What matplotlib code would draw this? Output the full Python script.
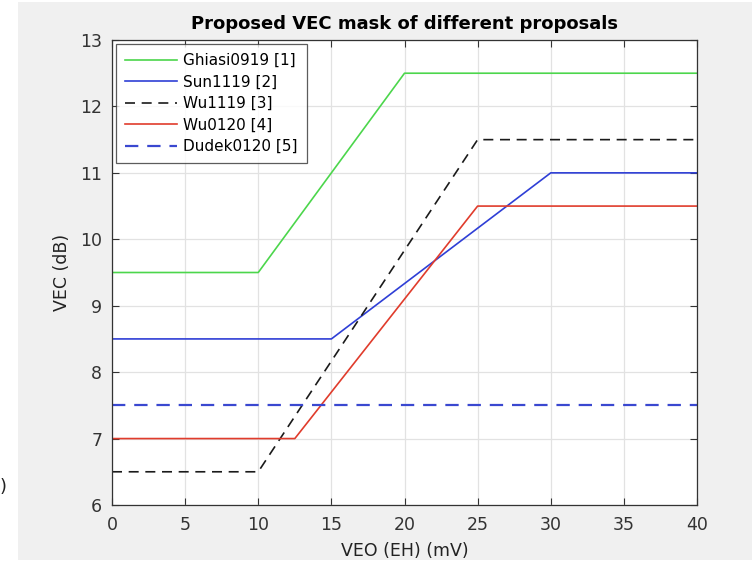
import matplotlib.pyplot as plt
from matplotlib.patches import Rectangle

# VEC mask breakpoints (VEO in mV -> VEC in dB)
ghiasi_x = [0, 10, 20, 40]
ghiasi_y = [9.5, 9.5, 12.5, 12.5]
sun_x = [0, 15, 30, 40]
sun_y = [8.5, 8.5, 11, 11]
wu1119_x = [0, 10, 25, 40]
wu1119_y = [6.5, 6.5, 11.5, 11.5]
wu0120_x = [0, 12.5, 25, 40]
wu0120_y = [7, 7, 10.5, 10.5]
dudek_x = [0, 40]
dudek_y = [7.5, 7.5]

labels = ["Ghiasi0919 [1]", "Sun1119 [2]", "Wu1119 [3]", "Wu0120 [4]", "Dudek0120 [5]"]

plt.rcParams['font.family'] = ['DejaVu Sans']

fig = plt.figure(figsize=(7.54, 5.65), dpi=100)
fig.patch.set_facecolor("white")
# grey window background behind the axes
fig.patches.append(Rectangle((18 / 754, 5 / 565), 734 / 754, 558 / 565,
                             transform=fig.transFigure, facecolor="#f0f0f0",
                             edgecolor="none", zorder=-10))
fig.text(0.0, (565 - 487) / 565, ")", fontsize=13, va="center", ha="left", color="#222222")

ax = fig.add_axes([112 / 754, 60 / 565, 585 / 754, 465 / 565])
ax.set_zorder(5)
ax.set_facecolor("white")

ax.plot(ghiasi_x, ghiasi_y, color="#4cd64c", lw=1.2, label=labels[0])
ax.plot(sun_x, sun_y, color="#2f3fd6", lw=1.2, label=labels[1])
ax.plot(wu1119_x, wu1119_y, color="#1a1a1a", lw=1.2, ls=(0, (6, 4)), label=labels[2])
ax.plot(wu0120_x, wu0120_y, color="#e03c2c", lw=1.2, label=labels[3])
ax.plot(dudek_x, dudek_y, color="#3a48d0", lw=1.6, ls=(0, (6, 4)), label=labels[4])

ax.set_xlim(0, 40)
ax.set_ylim(6, 13)
ax.set_xticks(range(0, 41, 5))
ax.set_yticks(range(6, 14))
ax.grid(True, color="#e2e2e2", lw=0.9)
ax.set_axisbelow(True)
ax.tick_params(direction="in", top=True, right=True, length=5, labelsize=12.5,
               colors="#333333")
ax.tick_params(axis="x", pad=8)
ax.tick_params(axis="y", pad=7)
for s in ax.spines.values():
    s.set_color("#333333")
    s.set_linewidth(0.9)

ax.set_xlabel("VEO (EH) (mV)", fontsize=12.5, color="#222222", labelpad=6)
ax.set_ylabel("VEC (dB)", fontsize=12.5, color="#222222", labelpad=7)
ax.set_title("Proposed VEC mask of different proposals", fontsize=13, fontweight="bold", pad=8)

leg = ax.legend(loc="upper left", fontsize=11, frameon=True, fancybox=False,
                edgecolor="#333333", handlelength=3.4, handletextpad=0.4,
                borderaxespad=0.25, labelspacing=0.43, borderpad=0.6)
leg.get_frame().set_linewidth(0.9)

fig.savefig("out.png", dpi=100)
